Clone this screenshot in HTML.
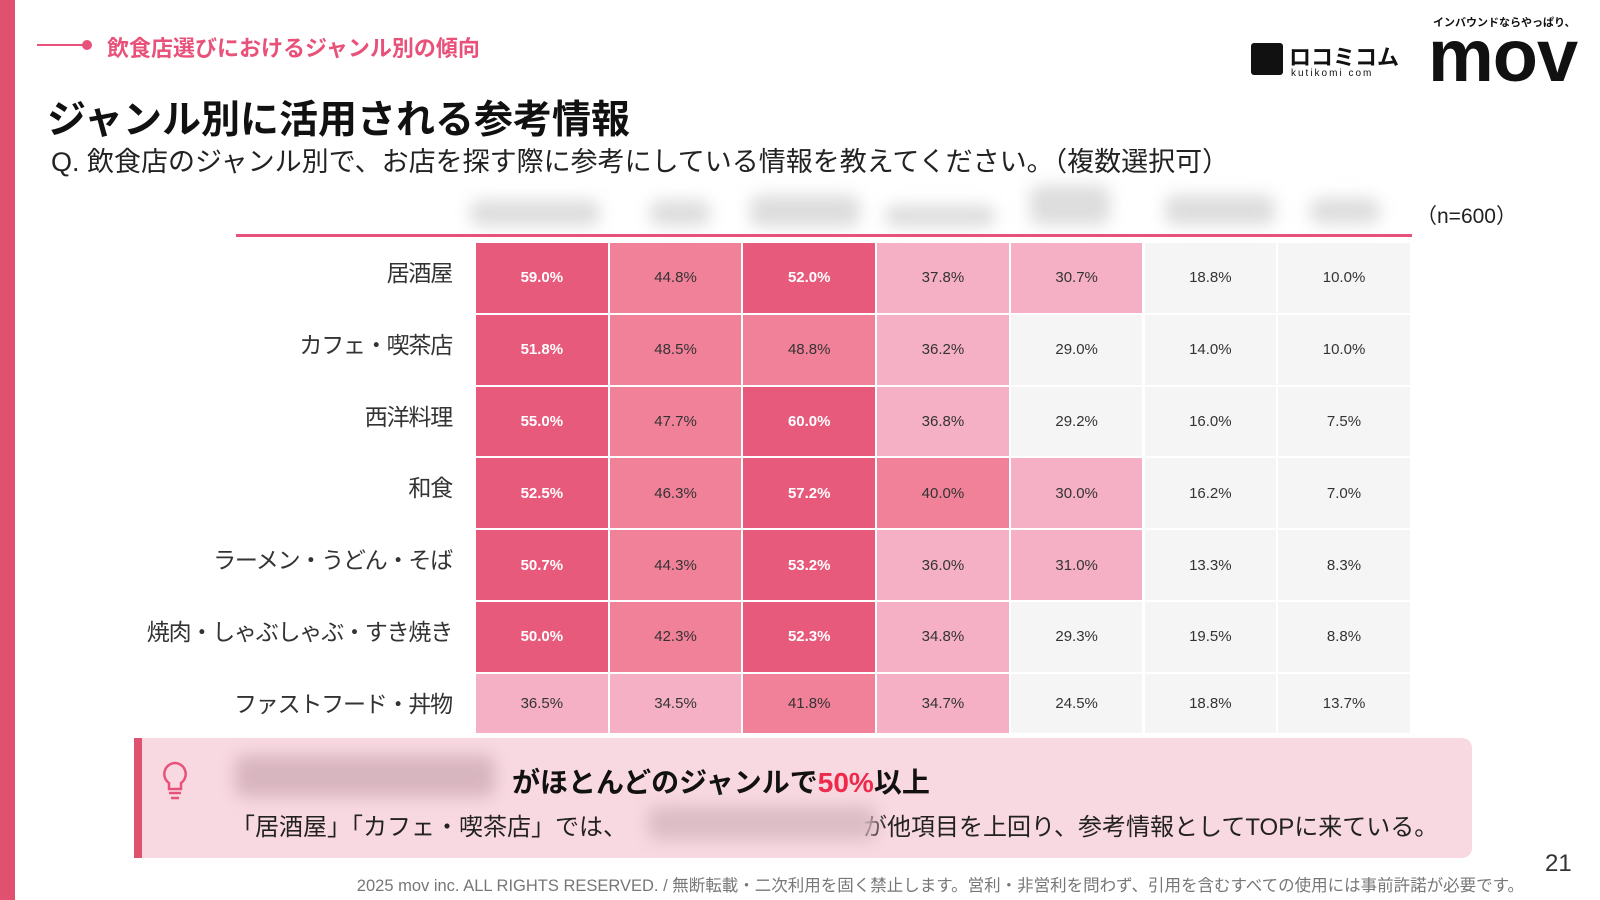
<!DOCTYPE html>
<html><head><meta charset="utf-8"><style>
*{margin:0;padding:0;box-sizing:border-box}
body{width:1600px;height:900px;background:#fff;position:relative;overflow:hidden;font-family:"Liberation Sans","Noto Sans CJK JP",sans-serif;color:#222}
.abs{position:absolute;white-space:nowrap}
.cell{position:absolute;display:flex;align-items:center;justify-content:center;font-size:15px;color:#333}
.d{background:#e85a7b;color:#fff;font-weight:bold}
.m{background:#f08199}
.l{background:#f5b0c5}
.g{background:#f5f5f5}
.lab{position:absolute;right:1148px;font-size:23px;color:#333;text-align:right;white-space:nowrap;letter-spacing:-1.2px}
.blur{position:absolute;background:#ddd;filter:blur(8px);border-radius:10px}
</style></head><body>
<div class="abs" style="left:0;top:0;width:15px;height:900px;background:#e0506f"></div>
<div class="abs" style="left:37px;top:44px;width:50px;height:2px;background:#e8527a"></div>
<div class="abs" style="left:82px;top:40px;width:10px;height:10px;border-radius:50%;background:#e8527a"></div>
<div class="abs" style="left:107px;top:31px;font-size:22px;font-weight:bold;color:#e8527a">飲食店選びにおけるジャンル別の傾向</div>
<div class="abs" style="left:47px;top:89px;font-size:39px;font-weight:bold;color:#111">ジャンル別に活用される参考情報</div>
<div class="abs" style="left:51px;top:140px;font-size:27px;color:#222">Q. 飲食店のジャンル別で、お店を探す際に参考にしている情報を教えてください。（複数選択可）</div>
<!-- logos -->
<div class="abs" style="left:1251px;top:43px;width:32px;height:32px;background:#111;border-radius:3px"></div>
<div class="abs" style="left:1289px;top:40px;font-size:22px;font-weight:bold;color:#111">ロコミコム</div>
<div class="abs" style="left:1291px;top:68px;font-size:10px;color:#111;letter-spacing:2px">kutikomi com</div>
<div class="abs" style="left:1433px;top:14px;font-size:11px;font-weight:bold;color:#111">インバウンドならやっぱり、</div>
<div class="abs" style="left:1428px;top:18px;font-size:74px;font-weight:bold;color:#111;letter-spacing:-1px;line-height:76px">mov</div>
<!-- blurred headers -->
<div class="blur" style="left:470px;top:200px;width:130px;height:26px"></div>
<div class="blur" style="left:650px;top:200px;width:60px;height:26px"></div>
<div class="blur" style="left:750px;top:195px;width:110px;height:32px"></div>
<div class="blur" style="left:885px;top:205px;width:110px;height:22px"></div>
<div class="blur" style="left:1030px;top:185px;width:80px;height:40px"></div>
<div class="blur" style="left:1165px;top:195px;width:110px;height:30px"></div>
<div class="blur" style="left:1310px;top:198px;width:70px;height:26px"></div>
<div class="abs" style="left:1416px;top:200px;font-size:21px;color:#222">（n=600）</div>
<div class="abs" style="left:236px;top:234px;width:1176px;height:3px;background:#e8527a"></div>
<div id="t"></div>
<!-- callout -->
<div class="abs" style="left:134px;top:738px;width:1346px;height:120px;background:#f9d9e1;border-left:8px solid #e0506f;border-radius:0 10px 10px 0;width:1338px"></div>
<svg class="abs" style="left:160px;top:760px" width="30" height="42" viewBox="0 0 30 42"><path d="M15 3a11 11 0 0 0-6 20v6h12v-6a11 11 0 0 0-6-20z" fill="none" stroke="#e8527a" stroke-width="2.5"/><line x1="9" y1="33" x2="21" y2="33" stroke="#e8527a" stroke-width="2.5"/><line x1="11" y1="38" x2="19" y2="38" stroke="#e8527a" stroke-width="2.5"/></svg>
<div class="blur" style="left:235px;top:755px;width:260px;height:42px;background:#d8b5bf"></div>
<div class="abs" style="left:512px;top:761px;font-size:28px;font-weight:bold;color:#111">がほとんどのジャンルで<span style="color:#ee2a4a">50%</span>以上</div>
<div class="abs" style="left:231px;top:807px;font-size:24px;color:#222">「居酒屋」「カフェ・喫茶店」では、<span style="display:inline-block;width:236px"></span>が他項目を上回り、参考情報としてTOPに来ている。</div>
<div class="blur" style="left:648px;top:806px;width:228px;height:34px;background:#dcbcc5"></div>
<div class="abs" style="left:1545px;top:850px;font-size:24px;color:#333">21</div>
<div class="abs" style="right:76px;top:872px;font-size:16.5px;color:#777">2025 mov inc. ALL RIGHTS RESERVED. / 無断転載・二次利用を固く禁止します。営利・非営利を問わず、引用を含むすべての使用には事前許諾が必要です。</div>
<script>
var rows=[["居酒屋",[59.0,44.8,52.0,37.8,30.7,18.8,10.0]],["カフェ・喫茶店",[51.8,48.5,48.8,36.2,29.0,14.0,10.0]],["西洋料理",[55.0,47.7,60.0,36.8,29.2,16.0,7.5]],["和食",[52.5,46.3,57.2,40.0,30.0,16.2,7.0]],["ラーメン・うどん・そば",[50.7,44.3,53.2,36.0,31.0,13.3,8.3]],["焼肉・しゃぶしゃぶ・すき焼き",[50.0,42.3,52.3,34.8,29.3,19.5,8.8]],["ファストフード・丼物",[36.5,34.5,41.8,34.7,24.5,18.8,13.7]]];
var h='',x0=476,w=133.7,y0=243,rh=71.8;
rows.forEach(function(r,i){var y=y0+i*rh,hh=i==6?61:rh;
h+='<div class="lab" style="top:'+(y+11)+'px">'+r[0]+'</div>';
r[1].forEach(function(v,j){var c=v>=50?'d':v>=40?'m':v>=30?'l':'g';
h+='<div class="cell '+c+'" style="left:'+(x0+j*w)+'px;top:'+y+'px;width:'+(w-2)+'px;height:'+(hh-2)+'px">'+v.toFixed(1)+'%</div>';});});
document.getElementById('t').innerHTML=h;
</script>
</body></html>
